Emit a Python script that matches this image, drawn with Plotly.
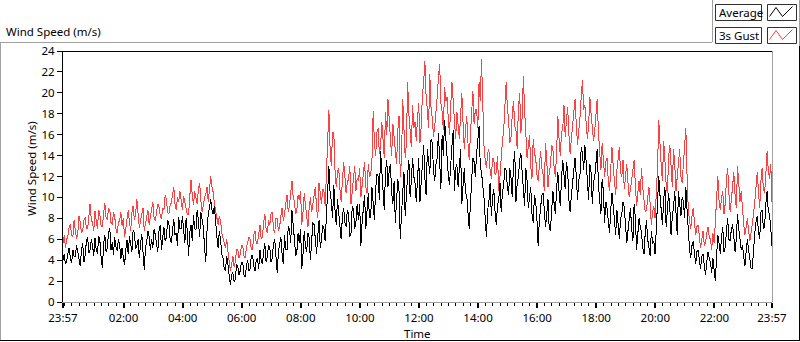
import pandas as pd
import plotly.graph_objects as go

# ---------------- data (2.5-minute samples) ----------------
start_time = "2000-01-01 23:57"
step = "150s"

average = [
    4.0, 4.6, 3.6, 3.9, 4.6, 5.2, 4.2, 3.7, 5.0, 4.4, 4.3, 5.4, 4.8, 4.1, 3.4, 4.9, 5.6, 3.8, 4.5, 5.8, 6.2, 4.7, 5.0, 6.0,
    5.4, 4.4, 6.1, 5.0, 4.6, 6.3, 5.8, 4.2, 3.3, 5.5, 6.4, 4.8, 5.2, 6.6, 7.1, 5.0, 5.7, 4.5, 6.2, 5.3, 4.9, 6.0, 5.5, 4.1,
    5.2, 4.3, 3.5, 5.0, 5.9, 4.6, 6.3, 5.5, 4.8, 6.9, 6.6, 5.1, 5.4, 6.0, 4.2, 5.6, 6.5, 4.8, 3.1, 5.2, 5.8, 6.8, 6.2, 5.0,
    6.0, 5.2, 7.0, 6.4, 5.4, 4.8, 6.8, 7.4, 5.0, 6.2, 7.2, 5.8, 6.2, 7.8, 7.6, 6.0, 5.6, 6.9, 7.9, 6.4, 6.6, 5.4, 8.1, 7.0,
    7.0, 8.2, 6.4, 5.6, 8.0, 6.8, 4.4, 6.6, 7.4, 5.8, 8.3, 7.0, 6.9, 8.8, 7.8, 6.2, 8.6, 7.6, 7.2, 5.2, 3.8, 6.8, 8.4, 9.0,
    9.8, 8.8, 8.4, 9.2, 7.2, 6.2, 5.2, 6.8, 6.0, 4.6, 4.2, 3.2, 3.0, 4.4, 3.6, 2.4, 1.6, 2.6, 2.8, 1.9, 2.2, 3.6, 3.4, 2.6,
    3.0, 3.8, 3.8, 2.6, 2.4, 3.4, 4.0, 3.0, 3.2, 4.4, 4.5, 3.4, 3.0, 4.0, 4.2, 3.2, 5.0, 4.0, 3.6, 4.8, 5.6, 3.8, 4.4, 5.4,
    5.2, 3.8, 4.2, 5.6, 6.0, 4.4, 2.8, 4.8, 5.4, 6.2, 4.6, 3.6, 6.4, 5.0, 5.0, 7.2, 7.0, 5.6, 8.8, 6.8, 6.0, 4.4, 4.8, 6.6,
    5.6, 7.0, 3.2, 4.6, 6.8, 5.2, 4.8, 6.6, 6.2, 4.0, 5.4, 7.6, 7.4, 5.8, 4.6, 6.4, 7.8, 5.2, 6.0, 7.4, 7.0, 5.8, 8.4, 9.6,
    13.0, 10.4, 9.6, 8.0, 11.2, 8.8, 7.4, 9.8, 8.6, 7.0, 6.0, 8.2, 9.0, 7.6, 7.2, 8.8, 8.4, 6.2, 6.6, 9.2, 8.8, 7.0, 7.6, 9.4,
    7.8, 9.4, 5.4, 7.6, 9.2, 10.2, 7.0, 8.6, 10.4, 8.0, 8.2, 11.0, 9.6, 7.8, 10.8, 12.2, 12.0, 9.8, 14.4, 12.6, 10.6, 8.8, 12.4, 13.6,
    11.0, 12.6, 13.2, 10.4, 9.4, 11.6, 7.6, 9.8, 11.8, 10.6, 6.0, 8.4, 10.2, 12.4, 8.2, 10.6, 12.2, 13.6, 10.0, 11.6, 13.8, 12.0, 11.4, 9.6,
    12.6, 13.8, 9.6, 11.4, 13.4, 15.0, 11.8, 10.2, 14.6, 13.0, 12.2, 15.6, 15.2, 12.6, 11.6, 13.2, 13.8, 16.2, 12.6, 10.8, 16.0, 14.0, 17.4, 15.4,
    14.0, 12.2, 11.2, 13.6, 15.0, 16.4, 10.6, 12.8, 13.2, 11.0, 12.4, 14.6, 9.4, 11.6, 12.8, 10.4, 10.2, 8.6, 7.0, 9.4, 11.6, 13.8, 13.4, 12.0,
    14.2, 15.6, 16.8, 13.0, 12.4, 11.2, 10.0, 8.0, 6.2, 8.8, 9.6, 11.4, 8.2, 10.0, 10.8, 8.6, 7.4, 9.2, 9.8, 11.4, 8.6, 10.4, 11.2, 12.8,
    12.6, 11.0, 10.2, 12.8, 11.8, 10.0, 13.2, 14.4, 9.6, 11.4, 12.0, 13.6, 14.2, 12.4, 10.8, 9.2, 12.8, 11.6, 9.0, 10.4, 11.0, 8.4, 7.6, 10.2,
    9.6, 8.0, 5.4, 7.8, 8.8, 10.2, 10.4, 9.0, 7.2, 8.4, 9.8, 7.0, 6.8, 8.8, 10.6, 9.4, 8.4, 10.8, 12.4, 10.6, 9.2, 11.8, 13.6, 12.2,
    10.8, 13.4, 12.6, 9.8, 8.6, 10.2, 11.4, 13.0, 13.8, 12.0, 9.8, 11.6, 12.2, 14.8, 14.2, 12.6, 15.0, 13.4, 11.0, 9.8, 13.2, 12.4, 9.4, 11.4,
    12.0, 13.6, 14.6, 11.2, 9.8, 8.4, 11.8, 10.6, 7.6, 9.6, 9.0, 7.4, 6.6, 8.8, 10.4, 9.2, 7.2, 6.4, 8.8, 7.6, 6.0, 8.0, 8.4, 9.6,
    9.0, 7.4, 5.6, 6.8, 8.2, 9.0, 7.0, 5.8, 9.4, 8.0, 5.0, 6.4, 8.0, 7.2, 6.6, 5.2, 4.6, 6.6, 7.8, 6.0, 5.2, 4.4, 6.8, 5.6,
    5.8, 4.6, 7.0, 9.4, 12.0, 10.2, 8.6, 7.4, 9.8, 11.0, 7.2, 8.6, 10.4, 9.0, 6.4, 8.2, 9.0, 10.6, 7.6, 6.4, 10.6, 9.2, 8.2, 10.0,
    9.6, 8.0, 11.0, 8.8, 6.4, 5.0, 4.2, 5.4, 5.8, 4.6, 3.6, 4.8, 5.0, 4.0, 3.2, 4.4, 4.6, 3.4, 2.6, 3.8, 4.8, 4.2, 3.8, 2.8,
    4.2, 3.0, 2.0, 4.4, 6.4, 5.6, 4.6, 6.2, 7.2, 4.8, 5.2, 6.8, 8.0, 6.0, 5.8, 7.0, 7.4, 6.2, 4.8, 6.0, 8.4, 7.0, 6.2, 5.0,
    5.4, 4.6, 3.4, 4.8, 6.0, 5.0, 4.0, 3.2, 3.2, 5.2, 6.6, 7.6, 8.2, 6.8, 6.0, 8.6, 8.8, 7.0, 7.2, 9.4, 10.6, 8.6, 8.4, 7.0,
    5.4,
]

gust = [
    5.6, 6.4, 5.2, 6.0, 6.3, 7.2, 7.4, 6.4, 6.2, 7.8, 6.9, 6.0, 6.5, 8.2, 7.6, 6.6, 6.8, 7.8, 8.1, 7.0, 7.0, 8.4, 9.4, 7.8,
    7.6, 6.8, 8.7, 7.8, 7.0, 8.8, 8.3, 7.2, 7.2, 8.4, 9.5, 8.0, 7.9, 9.0, 8.8, 7.6, 7.4, 8.6, 8.2, 7.0, 6.6, 7.6, 7.8, 8.6,
    7.3, 8.0, 6.2, 7.0, 8.2, 8.8, 7.6, 6.8, 8.6, 9.2, 7.8, 8.4, 9.8, 8.2, 7.1, 7.8, 8.5, 9.0, 6.8, 7.6, 8.0, 8.8, 7.4, 8.2,
    8.9, 9.6, 8.0, 7.8, 8.6, 9.4, 9.1, 8.2, 7.9, 9.0, 8.8, 10.2, 9.8, 8.6, 8.4, 9.2, 9.5, 10.4, 11.0, 9.4, 8.8, 10.0, 9.6, 10.6,
    9.6, 8.8, 10.1, 9.4, 9.0, 8.4, 8.4, 10.0, 11.7, 10.2, 9.3, 10.6, 10.0, 9.4, 10.8, 11.4, 9.7, 8.6, 9.2, 10.0, 10.3, 11.0, 9.6, 10.8,
    12.0, 11.0, 10.5, 9.4, 8.6, 8.0, 7.4, 8.2, 7.8, 6.6, 6.0, 5.6, 5.2, 6.0, 4.8, 3.8, 3.0, 3.6, 4.4, 3.4, 3.8, 5.0, 5.0, 4.2,
    4.6, 5.4, 5.4, 4.4, 4.2, 5.2, 5.6, 6.2, 6.0, 5.0, 5.0, 6.4, 6.8, 5.6, 5.6, 6.6, 7.4, 6.0, 6.2, 7.6, 8.4, 7.0, 6.6, 7.8,
    7.4, 8.4, 8.6, 7.0, 6.6, 8.0, 8.0, 6.8, 7.2, 8.2, 9.0, 7.8, 8.4, 9.4, 10.2, 8.6, 9.2, 10.4, 11.6, 10.0, 9.6, 8.4, 8.8, 10.2,
    9.8, 10.6, 7.4, 8.6, 10.4, 9.2, 8.2, 7.2, 9.0, 10.0, 8.6, 9.6, 10.2, 11.0, 9.0, 8.0, 11.4, 10.2, 9.4, 10.8, 10.6, 9.2, 12.2, 14.0,
    18.4, 14.6, 13.0, 16.2, 16.2, 12.6, 11.0, 12.4, 12.8, 10.8, 9.6, 11.6, 13.4, 12.0, 10.4, 11.4, 11.8, 13.0, 9.4, 10.6, 12.0, 13.0, 10.6, 11.8,
    11.6, 12.8, 10.0, 11.2, 12.6, 13.4, 11.0, 10.4, 13.2, 12.0, 12.2, 13.6, 18.3, 15.2, 14.0, 16.2, 16.6, 14.2, 14.8, 17.2, 15.6, 13.8, 18.2, 16.0,
    19.4, 17.0, 15.6, 14.0, 17.0, 15.8, 14.4, 13.2, 16.4, 17.8, 12.0, 13.6, 19.4, 16.8, 13.8, 15.2, 21.0, 18.0, 16.4, 14.8, 18.8, 16.6, 17.2, 15.4,
    17.6, 19.0, 15.2, 16.8, 19.8, 21.0, 23.0, 19.6, 18.4, 16.6, 21.8, 18.6, 17.6, 15.8, 16.8, 18.8, 19.6, 21.4, 22.8, 19.0, 18.2, 16.4, 20.6, 19.2,
    19.6, 17.6, 16.0, 18.8, 21.0, 19.2, 17.4, 15.6, 18.2, 16.8, 15.6, 17.8, 20.0, 17.2, 14.6, 16.4, 17.8, 15.2, 13.6, 16.0, 18.6, 20.2, 17.0, 18.4,
    18.4, 16.6, 21.0, 19.2, 23.2, 18.0, 15.0, 13.6, 12.8, 14.2, 14.6, 12.6, 11.8, 13.8, 13.6, 12.2, 12.4, 14.0, 10.6, 12.0, 14.0, 15.4, 16.4, 18.8,
    21.0, 18.6, 17.4, 15.2, 15.8, 18.0, 19.2, 16.8, 16.4, 14.6, 18.6, 20.0, 16.2, 17.6, 21.6, 18.4, 15.6, 13.8, 14.8, 16.0, 13.0, 11.8, 15.6, 14.2,
    13.8, 12.2, 11.6, 13.4, 14.4, 12.8, 12.2, 10.6, 15.2, 13.6, 11.0, 12.4, 13.0, 15.0, 14.6, 12.8, 12.0, 14.2, 17.8, 15.6, 14.0, 16.2, 16.6, 18.8,
    15.8, 17.4, 18.6, 16.0, 14.2, 15.6, 16.8, 18.2, 19.4, 17.0, 15.0, 16.4, 17.6, 19.6, 21.2, 18.4, 18.8, 17.2, 15.6, 16.8, 19.6, 18.0, 17.0, 15.4,
    16.4, 18.0, 19.4, 16.2, 14.0, 12.6, 15.2, 13.2, 12.0, 13.4, 13.8, 11.6, 10.6, 12.8, 14.8, 13.0, 11.4, 10.2, 12.6, 14.0, 14.8, 12.4, 12.0, 13.6,
    10.8, 12.0, 13.2, 11.4, 10.0, 10.8, 11.8, 13.0, 13.6, 11.2, 9.2, 10.4, 11.6, 10.2, 12.8, 11.0, 9.6, 8.6, 8.8, 10.2, 11.0, 9.4, 7.4, 8.6,
    9.2, 8.0, 10.2, 12.8, 17.4, 14.8, 13.0, 11.6, 15.4, 13.6, 11.2, 10.4, 13.8, 15.0, 12.4, 11.0, 14.6, 13.2, 10.6, 12.0, 13.4, 14.6, 12.0, 11.4,
    13.2, 14.8, 16.6, 12.0, 8.8, 7.8, 7.0, 8.2, 9.0, 7.6, 6.4, 7.2, 7.4, 6.2, 5.2, 6.0, 6.8, 5.4, 5.6, 6.6, 7.2, 6.2, 6.0, 5.0,
    6.6, 5.6, 7.8, 10.2, 12.0, 9.6, 8.8, 10.0, 10.6, 8.4, 9.4, 11.8, 12.8, 10.4, 8.6, 9.8, 11.4, 12.4, 10.2, 9.0, 13.0, 11.2, 9.6, 10.6,
    8.8, 7.4, 6.4, 7.2, 8.0, 6.8, 5.8, 6.6, 7.4, 8.4, 9.6, 11.0, 12.4, 10.6, 9.0, 11.6, 12.8, 10.8, 10.4, 12.2, 14.4, 12.6, 11.8, 13.2,
    9.6,
]

tick_times = [
    "2000-01-01 23:57", "2000-01-02 02:00", "2000-01-02 04:00", "2000-01-02 06:00",
    "2000-01-02 08:00", "2000-01-02 10:00", "2000-01-02 12:00", "2000-01-02 14:00",
    "2000-01-02 16:00", "2000-01-02 18:00", "2000-01-02 20:00", "2000-01-02 22:00",
    "2000-01-02 23:57",
]
tick_labels = ["23:57", "02:00", "04:00", "06:00", "08:00", "10:00", "12:00",
               "14:00", "16:00", "18:00", "20:00", "22:00", "23:57"]
y_ticks = [0, 2, 4, 6, 8, 10, 12, 14, 16, 18, 20, 22, 24]

assert len(average) == 577, len(average)
assert len(gust) == 577, len(gust)
times = pd.date_range(start_time, periods=len(average), freq=step)

# ---------------- layout geometry (pixels) ----------------
W, H = 800, 342
L, R, T, B = 63, 28, 51, 40
PW = W - L - R
PH = H - T - B
FONT = "Noto Sans, Segoe UI, sans-serif"
FS = 11.5
RED = "#ff4040"
GRAY = "#a0a0a0"


def px(x):
    return (x - L) / PW


def py(y):
    return (H - B - y) / PH


fig = go.Figure()
fig.add_trace(go.Scatter(x=times, y=gust, mode="lines", name="3s Gust",
                         line=dict(color=RED, width=1), showlegend=False))
fig.add_trace(go.Scatter(x=times, y=average, mode="lines", name="Average",
                         line=dict(color="black", width=1), showlegend=False))

shapes = []


def line(x0, y0, x1, y1, color, width=1):
    shapes.append(dict(type="line", xref="paper", yref="paper",
                       x0=px(x0), y0=py(y0), x1=px(x1), y1=py(y1),
                       line=dict(color=color, width=width)))


def rect(x0, y0, x1, y1, color):
    shapes.append(dict(type="rect", xref="paper", yref="paper",
                       x0=px(x0), y0=py(y0), x1=px(x1), y1=py(y1),
                       line=dict(color=color, width=1), fillcolor="white"))


def zigzag(points, color):
    path = "M " + " L ".join(f"{px(x)},{py(y)}" for x, y in points)
    shapes.append(dict(type="path", xref="paper", yref="paper", path=path,
                       line=dict(color=color, width=1)))


# outer frame
line(0, 42.5, 712, 42.5, GRAY)
line(0.5, 42, 0.5, 341, GRAY)
line(0, 340.5, 800, 340.5, "black")
line(799.5, 46, 799.5, 341, "black")
line(712.5, 0, 712.5, 42, GRAY)
line(799.5, 0, 799.5, 46, GRAY)
# plot area top / right borders
line(62.5, 51.5, 772.5, 51.5, "black")
line(772.5, 51.5, 772.5, 302, GRAY)

# legend
rect(715.5, 4.5, 761.5, 20.5, "#303030")
rect(767.5, 4.5, 796.5, 20.5, "#303030")
rect(715.5, 27.5, 761.5, 43.5, "#303030")
rect(767.5, 27.5, 796.5, 43.5, "#303030")
zigzag([(769.5, 16.5), (776, 7.5), (782.5, 16.5), (792.5, 6.5)], "black")
zigzag([(769.5, 39.5), (776, 30.5), (782.5, 39.5), (792.5, 29.5)], RED)

annotations = [
    dict(text="Wind Speed (m/s)", xref="paper", yref="paper", x=px(4), y=py(31),
         xanchor="left", yanchor="middle", showarrow=False,
         font=dict(family=FONT, size=FS, color="black")),
    dict(text="Average", xref="paper", yref="paper", x=px(716.5), y=py(12.5),
         xanchor="left", yanchor="middle", showarrow=False,
         font=dict(family=FONT, size=FS, color="black")),
    dict(text="3s Gust", xref="paper", yref="paper", x=px(716.5), y=py(35.5),
         xanchor="left", yanchor="middle", showarrow=False,
         font=dict(family=FONT, size=FS, color="black")),
    dict(text="Wind Speed (m/s)", xref="paper", yref="paper", x=px(31), y=py(169),
         xanchor="center", yanchor="middle", textangle=-90, showarrow=False,
         font=dict(family=FONT, size=FS, color="black")),
    dict(text="Time", xref="paper", yref="paper", x=px(417), y=py(333),
         xanchor="center", yanchor="middle", showarrow=False,
         font=dict(family=FONT, size=FS, color="black")),
]

fig.update_layout(
    width=W, height=H,
    margin=dict(l=L, r=R, t=T, b=B, pad=0),
    paper_bgcolor="white", plot_bgcolor="white",
    font=dict(family=FONT, size=FS, color="black"),
    shapes=shapes, annotations=annotations,
    xaxis=dict(
        type="date", range=[tick_times[0], tick_times[-1]],
        tickmode="array", tickvals=tick_times, ticktext=tick_labels,
        ticks="outside", ticklen=5, tickwidth=2, tickcolor="black",
        showline=True, linecolor=GRAY, linewidth=1,
        showgrid=False, zeroline=False, automargin=False,
        tickfont=dict(family=FONT, size=FS, color="black"),
        minor=dict(ticks="outside", ticklen=3, tickwidth=1, tickcolor="black",
                   dtick=15 * 60 * 1000, tick0="2000-01-02 00:00", showgrid=False),
    ),
    yaxis=dict(
        range=[0, 24], tickmode="array", tickvals=y_ticks,
        ticks="outside", ticklen=5, tickwidth=1, tickcolor="black",
        showline=True, linecolor="black", linewidth=1,
        showgrid=False, zeroline=False, automargin=False,
        tickfont=dict(family=FONT, size=FS, color="black"),
    ),
)

post = (
    "document.body.style.margin='0';"
    "document.body.style.overflow='hidden';"
    "var st=document.createElement('style');"
    "st.textContent='.scatterlayer path.js-line{shape-rendering:crispEdges;}';"
    "document.head.appendChild(st);"
)

fig.write_html("out.html", config={"displayModeBar": False}, post_script=post)
